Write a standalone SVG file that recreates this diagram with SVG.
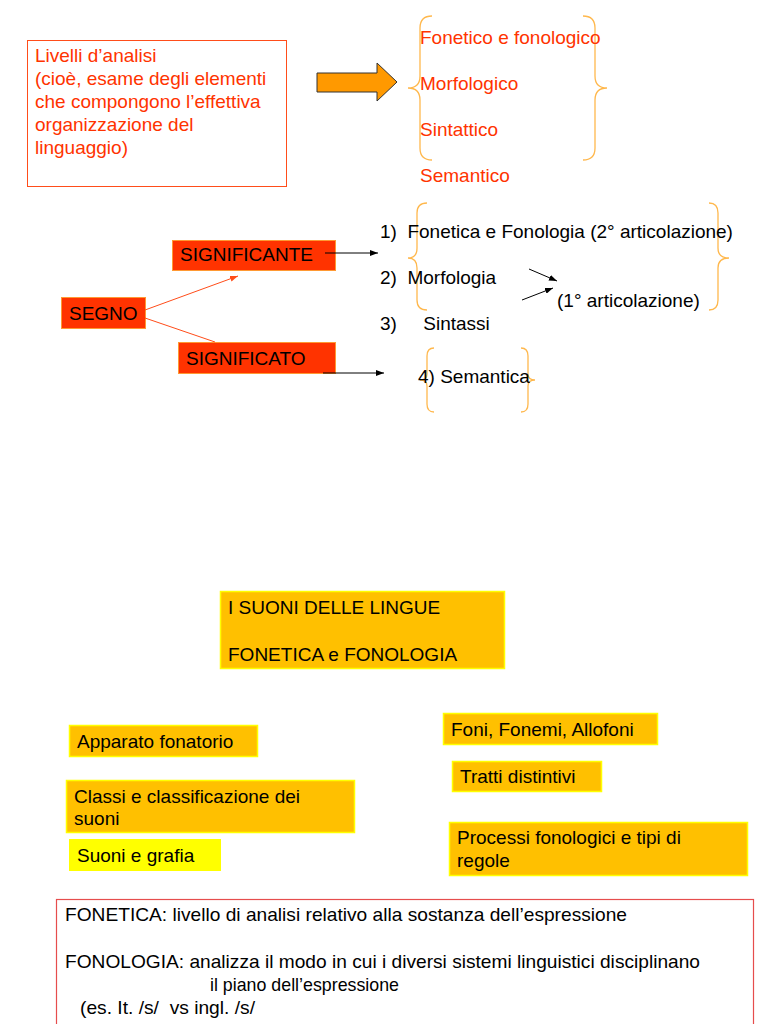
<svg xmlns="http://www.w3.org/2000/svg" width="768" height="1024" viewBox="0 0 768 1024">
<defs>
<style>
text{font-family:"Liberation Sans",Arial,sans-serif;font-size:19px;fill:#000}
.red{fill:#ff3300}
.rbox{fill:#ff3300;stroke:#ff9933;stroke-width:1}
.gbox{fill:#ffc000;stroke:#ffff00;stroke-width:1.5}
.ybox{fill:#ffff00;stroke:none}
.brace{fill:none;stroke:#ffb84d;stroke-width:1.3}
.blk{stroke:#000;stroke-width:1;fill:none}
.org{stroke:#ff4d1a;stroke-width:1;fill:none}
</style>
<marker id="ab" markerWidth="8" markerHeight="6" refX="8" refY="3" orient="auto" markerUnits="userSpaceOnUse"><path d="M0,0 L8,3 L0,6 Z" fill="#000"/></marker>
<marker id="ao" markerWidth="8" markerHeight="6" refX="8" refY="3" orient="auto" markerUnits="userSpaceOnUse"><path d="M0,0 L8,3 L0,6 Z" fill="#ff4d1a"/></marker>
</defs>
<rect width="768" height="1024" fill="#fff"/>

<g id="livelli">
<rect x="27.5" y="40.5" width="259" height="146" fill="none" stroke="#ff4d1a" stroke-width="1"/>
<text class="red" x="35" y="62">Livelli d’analisi</text>
<text class="red" x="35" y="85">(cioè, esame degli elementi</text>
<text class="red" x="35" y="108">che compongono l’effettiva</text>
<text class="red" x="35" y="131">organizzazione del</text>
<text class="red" x="35" y="154">linguaggio)</text>
</g>

<g id="bigarrow">
<path d="M317,73 L377,73 L377,63 L397,82 L377,101 L377,92 L317,92 Z" fill="#ff9900" stroke="#333" stroke-width="1"/>
</g>

<g id="livelli-list">
<path class="brace" d="M432,16 Q420,16 420,28 L420,76 Q420,88 408,88 Q420,88 420,100 L420,148 Q420,160 432,160"/>
<path class="brace" d="M583,16 Q595,16 595,28 L595,76 Q595,88 607,88 Q595,88 595,100 L595,148 Q595,160 583,160"/>
<text class="red" x="420" y="44">Fonetico e fonologico</text>
<text class="red" x="420" y="90">Morfologico</text>
<text class="red" x="420" y="136">Sintattico</text>
<text class="red" x="420" y="182">Semantico</text>
</g>

<g id="significante">
<rect class="rbox" x="172.5" y="240.5" width="163" height="30"/>
<text x="180" y="261">SIGNIFICANTE</text>
</g>
<g id="segno">
<rect class="rbox" x="61.5" y="297.5" width="84" height="31"/>
<text x="69" y="320">SEGNO</text>
</g>
<g id="significato">
<rect class="rbox" x="178.5" y="342.5" width="157" height="31"/>
<text x="186" y="365">SIGNIFICATO</text>
</g>

<g id="connectors">
<line class="org" x1="145" y1="310" x2="238" y2="276" marker-end="url(#ao)"/>
<line class="org" x1="145" y1="318" x2="215" y2="342"/>
<line class="blk" x1="325" y1="253" x2="378" y2="253" marker-end="url(#ab)"/>
<line class="blk" x1="323" y1="373" x2="384" y2="373" marker-end="url(#ab)"/>
<line class="blk" x1="529" y1="269" x2="557" y2="281" marker-end="url(#ab)"/>
<line class="blk" x1="522" y1="300" x2="553" y2="288" marker-end="url(#ab)"/>
</g>

<g id="articolazioni">
<path class="brace" d="M427,203 Q417,203 417,213 L417,248 Q417,258 408,258 Q417,258 417,268 L417,300 Q417,310 427,310"/>
<path class="brace" d="M709,203 Q718,203 718,213 L718,248 Q718,258 729,258 Q718,258 718,268 L718,300 Q718,310 709,310"/>
<text x="380" y="238" xml:space="preserve">1)  Fonetica e Fonologia (2° articolazione)</text>
<text x="380" y="284" xml:space="preserve">2)  Morfologia</text>
<text x="557" y="307">(1° articolazione)</text>
<text x="380" y="330" xml:space="preserve">3)     Sintassi</text>
</g>

<g id="semantica">
<path class="brace" d="M434,348 Q427,348 427,356 L427,374 Q427,380 420,380 Q427,380 427,386 L427,404 Q427,412 434,412"/>
<path class="brace" d="M521,348 Q528,348 528,356 L528,374 Q528,380 535,380 Q528,380 528,386 L528,404 Q528,412 521,412"/>
<text x="418" y="383">4) Semantica</text>
</g>

<g id="suoni">
<rect class="gbox" x="220.5" y="591.5" width="284" height="77"/>
<text x="228" y="614">I SUONI DELLE LINGUE</text>
<text x="228" y="661">FONETICA e FONOLOGIA</text>
</g>

<g id="apparato">
<rect class="gbox" x="69.5" y="725.5" width="188" height="31"/>
<text x="77" y="748">Apparato fonatorio</text>
</g>
<g id="classi">
<rect class="gbox" x="66.5" y="780.5" width="288" height="52"/>
<text x="74" y="803">Classi e classificazione dei</text>
<text x="74" y="825">suoni</text>
</g>
<g id="grafia">
<rect class="ybox" x="69" y="839" width="152" height="32"/>
<text x="77" y="862">Suoni e grafia</text>
</g>
<g id="foni">
<rect class="gbox" x="443.5" y="713.5" width="214" height="31"/>
<text x="451" y="736">Foni, Fonemi, Allofoni</text>
</g>
<g id="tratti">
<rect class="gbox" x="452.5" y="761.5" width="149" height="30"/>
<text x="460" y="783">Tratti distintivi</text>
</g>
<g id="processi">
<rect class="gbox" x="449.5" y="822.5" width="298" height="53"/>
<text x="457" y="844">Processi fonologici e tipi di</text>
<text x="457" y="867">regole</text>
</g>

<g id="definizioni">
<rect x="56.5" y="899.5" width="697" height="140" fill="none" stroke="#e64d4d" stroke-width="1.2"/>
<text x="65" y="921" textLength="562" lengthAdjust="spacingAndGlyphs">FONETICA: livello di analisi relativo alla sostanza dell’espressione</text>
<text x="65" y="968" textLength="635" lengthAdjust="spacingAndGlyphs">FONOLOGIA: analizza il modo in cui i diversi sistemi linguistici disciplinano</text>
<text x="210" y="991" textLength="189" lengthAdjust="spacingAndGlyphs">il piano dell’espressione</text>
<text x="80" y="1014" textLength="175" lengthAdjust="spacingAndGlyphs" xml:space="preserve">(es. It. /s/  vs ingl. /s/</text>
</g>
</svg>
